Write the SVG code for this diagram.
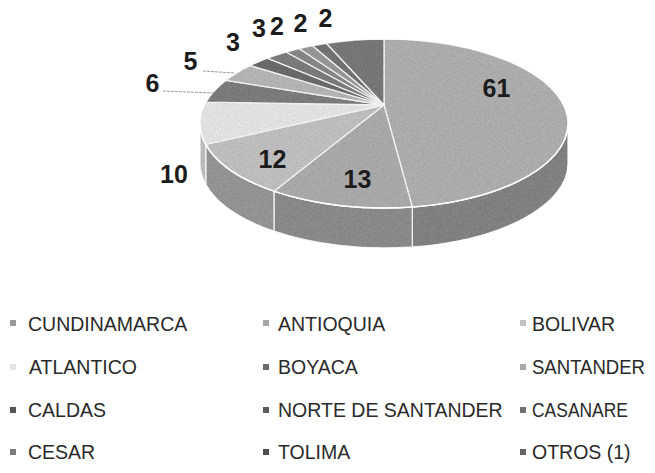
<svg xmlns="http://www.w3.org/2000/svg" width="655" height="473" viewBox="0 0 655 473">
<style>
.top{stroke:#ffffff;stroke-width:1.3;stroke-linejoin:round}
.side{stroke:#ffffff;stroke-width:1.3;stroke-linejoin:round}
.lbl{font-family:"Liberation Sans",Arial,sans-serif;font-weight:bold;font-size:25px;fill:#1c1c1c;text-anchor:middle}
.leg{font-family:"Liberation Sans",Arial,sans-serif;font-size:19.5px;fill:#2a2a2a}
.lead{stroke:#9a9a9a;stroke-width:1;fill:none;stroke-dasharray:3 1}
</style>
<defs>
  <filter id="grain" x="0" y="0" width="100%" height="100%">
    <feTurbulence type="fractalNoise" baseFrequency="1.4" numOctaves="1" seed="7"/>
    <feColorMatrix type="matrix" values="1 0 0 0 0  1 0 0 0 0  1 0 0 0 0  0 0 0 0 0.22"/>
  </filter>
  <clipPath id="pieclip">
    <path d="M200,123.5 A184,84.5 0 0 1 568,123.5 L568,163.5 A184,84.5 0 0 1 200,163.5 Z"/>
  </clipPath>
</defs>
<rect width="655" height="473" fill="#ffffff"/>
<g id="pie">
  <g id="sides">
    <path class="side" fill="#6f6f6f" d="M568,123.5 A184,84.5 0 0 1 412.29,206.99 L412.29,246.99 A184,84.5 0 0 0 568,163.5 Z"/>
    <path class="side" fill="#7a7a7a" d="M412.29,206.99 A184,84.5 0 0 1 273.99,191.22 L273.99,231.22 A184,84.5 0 0 0 412.29,246.99 Z"/>
    <path class="side" fill="#878787" d="M273.99,191.22 A184,84.5 0 0 1 205.72,144.34 L205.72,184.34 A184,84.5 0 0 0 273.99,231.22 Z"/>
    <path class="side" fill="#bababa" d="M205.72,144.34 A184,84.5 0 0 1 200,123.5 L200,163.5 A184,84.5 0 0 0 205.72,184.34 Z"/>
  </g>
  <g id="slice-cundinamarca"><path class="top" fill="#a7a7a7" d="M384,105 L384,39 A184,84.5 0 0 1 412.29,206.99 Z"/></g>
  <g id="slice-antioquia"><path class="top" fill="#a2a2a2" d="M384,105 L412.29,206.99 A184,84.5 0 0 1 273.99,191.22 Z"/></g>
  <g id="slice-bolivar"><path class="top" fill="#bdbdbd" d="M384,105 L273.99,191.22 A184,84.5 0 0 1 205.72,144.34 Z"/></g>
  <g id="slice-atlantico"><path class="top" fill="#ebebeb" d="M384,105 L205.72,144.34 A184,84.5 0 0 1 206.07,102.04 Z"/></g>
  <g id="slice-boyaca"><path class="top" fill="#686868" d="M384,105 L206.07,102.04 A184,84.5 0 0 1 225.77,80.40 Z"/></g>
  <g id="slice-santander"><path class="top" fill="#b0b0b0" d="M384,105 L225.77,80.40 A184,84.5 0 0 1 250.09,65.56 Z"/></g>
  <g id="slice-caldas"><path class="top" fill="#525252" d="M384,105 L250.09,65.56 A184,84.5 0 0 1 267.26,58.19 Z"/></g>
  <g id="slice-norte"><path class="top" fill="#676767" d="M384,105 L267.26,58.19 A184,84.5 0 0 1 285.91,52.01 Z"/></g>
  <g id="slice-casanare"><path class="top" fill="#767676" d="M384,105 L285.91,52.01 A184,84.5 0 0 1 299.01,48.56 Z"/></g>
  <g id="slice-cesar"><path class="top" fill="#8a8a8a" d="M384,105 L299.01,48.56 A184,84.5 0 0 1 312.53,45.64 Z"/></g>
  <g id="slice-tolima"><path class="top" fill="#5c5c5c" d="M384,105 L312.53,45.64 A184,84.5 0 0 1 326.42,43.24 Z"/></g>
  <g id="slice-otros"><path class="top" fill="#626262" d="M384,105 L326.42,43.24 A184,84.5 0 0 1 384,39 Z"/></g>
  <rect x="195" y="35" width="380" height="215" filter="url(#grain)" clip-path="url(#pieclip)"/>
  <path d="M568,123.5 A184,84.5 0 0 1 200,123.5" fill="none" stroke="#ffffff" stroke-width="1.3"/>
</g>
<g id="connectors">
  <line class="lead" x1="203" y1="71" x2="234" y2="73"/>
  <line class="lead" x1="163" y1="91" x2="214" y2="93"/>
</g>
<g id="labels">
  <text class="lbl" x="496.5" y="97">61</text>
  <text class="lbl" x="357.5" y="188">13</text>
  <text class="lbl" x="272.5" y="168">12</text>
  <text class="lbl" x="174" y="183">10</text>
  <text class="lbl" x="152.5" y="92">6</text>
  <text class="lbl" x="190.5" y="70">5</text>
  <text class="lbl" x="233" y="51">3</text>
  <text class="lbl" x="259" y="37">3</text>
  <text class="lbl" x="277" y="35">2</text>
  <text class="lbl" x="300.5" y="32">2</text>
  <text class="lbl" x="325.5" y="27">2</text>
  <text class="lbl" x="370" y="57" style="fill:#747474;font-size:19px">8</text>
</g>
<g id="legend">
  <g id="leg-cundinamarca"><rect x="10" y="320" width="6" height="6" fill="#9a9a9a"/><text class="leg" x="28" y="331">CUNDINAMARCA</text></g>
  <g id="leg-antioquia"><rect x="263" y="320" width="6" height="6" fill="#a6a6a6"/><text class="leg" x="278" y="331">ANTIOQUIA</text></g>
  <g id="leg-bolivar"><rect x="520" y="320" width="6" height="6" fill="#c2c2c2"/><text class="leg" x="532" y="331">BOLIVAR</text></g>
  <g id="leg-atlantico"><rect x="10" y="364" width="6" height="6" fill="#e4e4e4"/><text class="leg" x="29" y="374">ATLANTICO</text></g>
  <g id="leg-boyaca"><rect x="263" y="364" width="6" height="6" fill="#6b6b6b"/><text class="leg" x="278" y="374">BOYACA</text></g>
  <g id="leg-santander"><rect x="520" y="364" width="6" height="6" fill="#a8a8a8"/><text class="leg" x="532" y="374" textLength="113" lengthAdjust="spacingAndGlyphs">SANTANDER</text></g>
  <g id="leg-caldas"><rect x="10" y="407" width="6" height="6" fill="#555555"/><text class="leg" x="28" y="417">CALDAS</text></g>
  <g id="leg-norte"><rect x="263" y="407" width="6" height="6" fill="#5a5a5a"/><text class="leg" x="278" y="417">NORTE DE SANTANDER</text></g>
  <g id="leg-casanare"><rect x="520" y="407" width="6" height="6" fill="#707070"/><text class="leg" x="532" y="417" textLength="96" lengthAdjust="spacingAndGlyphs">CASANARE</text></g>
  <g id="leg-cesar"><rect x="10" y="449" width="6" height="6" fill="#7a7a7a"/><text class="leg" x="28" y="459">CESAR</text></g>
  <g id="leg-tolima"><rect x="263" y="449" width="6" height="6" fill="#4f4f4f"/><text class="leg" x="278" y="459">TOLIMA</text></g>
  <g id="leg-otros"><rect x="520" y="449" width="6" height="6" fill="#656565"/><text class="leg" x="532" y="459">OTROS (1)</text></g>
</g>
</svg>
